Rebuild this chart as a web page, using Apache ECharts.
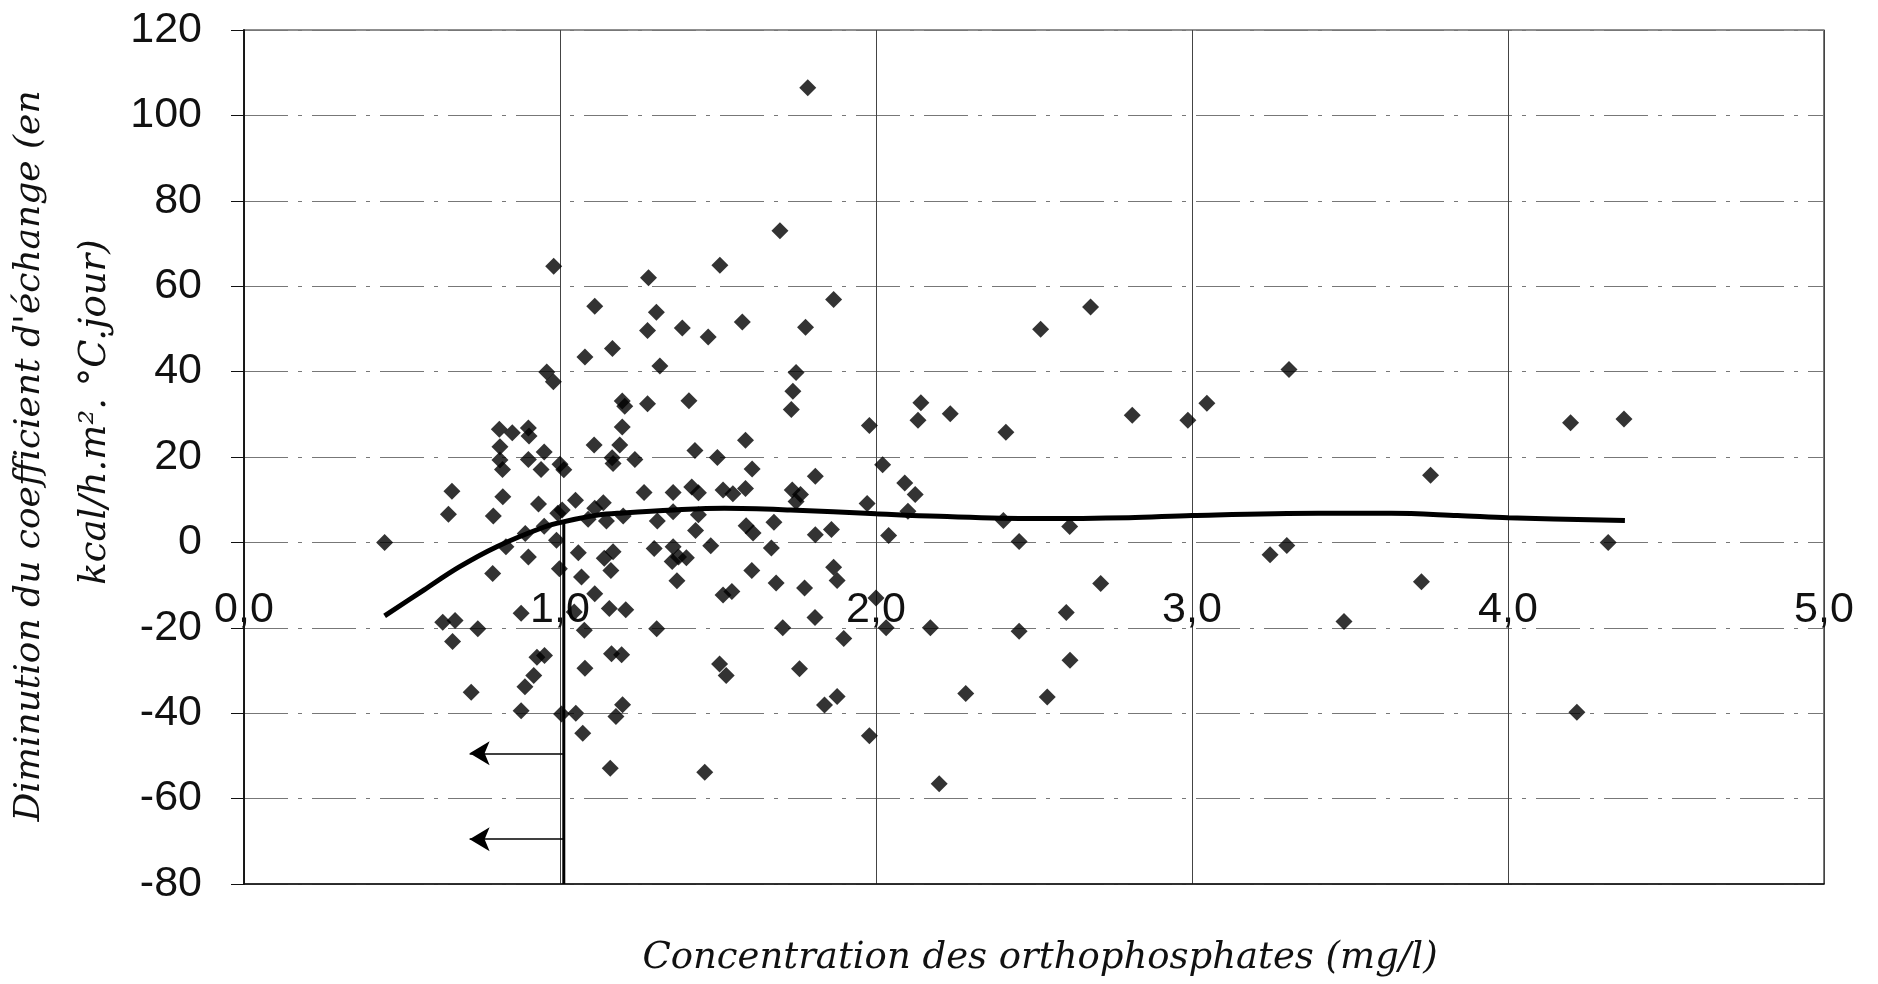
<!DOCTYPE html>
<html>
<head>
<meta charset="utf-8">
<script src="https://cdn.jsdelivr.net/npm/echarts@6/dist/echarts.min.js"></script>
<style>
html,body{margin:0;padding:0;background:#fff;}
#chart{width:1878px;height:984px;}
</style>
</head>
<body>
<div id="chart"></div>
<script>
// Orthophosphate concentration (mg/l)
const concentration = [
 0.98,1.28,1.11,1.305,1.277,1.166,1.079,1.316,0.958,0.979,1.197,1.205,1.277,1.197,0.808,0.849,0.90,0.902,0.81,1.108,
 1.189,0.95,0.81,0.90,1.165,1.237,0.818,0.94,1.0,1.012,1.168,0.658,0.819,1.266,1.358,0.647,0.789,0.932,1.049,1.007,
 0.993,1.137,1.11,1.089,1.147,1.20,1.308,1.358,0.445,0.829,0.89,0.95,0.989,1.058,1.168,1.298,1.358,0.90,1.14,
 1.161,0.787,0.998,1.068,1.11,0.877,1.045,1.077,1.156,1.208,1.306,0.629,0.668,0.74,0.66,0.927,0.951,1.163,1.195,0.917,
 0.889,1.079,0.719,0.877,1.005,1.05,1.198,1.177,1.072,1.159,
 1.355,1.375,1.40,1.37,
 1.784,1.696,1.506,1.866,1.387,1.469,1.577,1.777,1.747,1.737,1.732,1.408,1.979,2.142,2.133,2.235,1.587,1.427,1.498,1.608,
 1.808,2.021,2.091,2.124,1.417,1.438,1.516,1.547,1.587,1.735,1.761,1.747,1.972,1.438,2.101,1.429,1.589,1.611,1.677,1.808,
 1.859,2.04,1.477,1.669,
 1.607,1.684,1.774,1.866,1.877,1.516,1.544,2.0,1.705,1.807,1.898,2.032,2.172,1.505,1.526,1.758,1.877,1.837,1.979,1.458,2.2,
 2.284,2.679,2.521,3.307,2.411,2.811,2.987,3.047,3.755,2.403,2.613,2.453,3.247,3.30,3.726,2.711,2.602,2.453,3.481,2.614,2.542,
 4.198,4.367,4.317,4.218
];
// Decrease of the exchange coefficient (kcal/h.m².°C.jour)
const diminution = [
 64.7,62.0,55.3,53.9,49.6,45.4,43.4,41.3,39.9,37.6,33.1,31.9,32.5,27.0,26.5,25.7,26.8,24.9,22.4,22.8,
 22.8,21.2,19.3,19.4,19.8,19.4,17.1,17.1,18.3,17.0,18.5,12.0,10.7,11.7,11.7,6.6,6.2,9.0,9.9,7.6,
 6.8,9.3,8.0,5.4,5.0,6.2,5.0,7.2,0.0,-1.0,2.1,3.8,0.5,-2.4,-2.2,-1.4,-1.0,-3.4,-3.7,
 -6.6,-7.3,-6.2,-8.1,-12.0,-16.6,-16.3,-20.6,-15.5,-15.8,-20.2,-18.7,-18.3,-20.2,-23.2,-26.9,-26.5,-26.1,-26.3,-31.2,
 -33.8,-29.5,-35.1,-39.4,-40.2,-40.0,-38.0,-40.8,-44.7,-52.9,
 -4.5,-3.4,-3.6,-9.0,
 106.5,73.0,64.9,56.9,50.2,48.1,51.6,50.4,39.8,35.4,31.1,33.2,27.4,32.7,28.6,30.1,23.9,21.5,19.9,17.2,
 15.5,18.2,13.9,11.2,13.0,11.6,12.3,11.4,12.6,12.3,11.2,9.6,9.1,6.5,7.3,2.8,3.9,2.2,4.7,1.8,
 3.0,1.6,-0.8,-1.3,
 -6.6,-9.5,-10.7,-5.8,-8.9,-12.3,-11.5,-13.0,-20.0,-17.6,-22.5,-20.0,-20.0,-28.5,-31.2,-29.6,-36.1,-38.1,-45.3,-53.8,-56.5,
 -35.4,55.1,49.9,40.5,25.8,29.8,28.6,32.6,15.7,5.1,3.7,0.2,-2.9,-0.7,-9.2,-9.6,-16.4,-20.8,-18.5,-27.6,-36.2,
 28.0,28.9,0.0,-39.8
];
// Fitted trend curve
const trendX = [0.445,0.57,0.68,0.80,0.95,1.01,1.12,1.20,1.36,1.52,1.73,2.0,2.2,2.5,2.8,3.0,3.4,3.63,3.84,4.0,4.37];
const trendY = [-17.2,-11.1,-5.8,-1.0,3.6,4.8,6.4,6.9,7.6,8.0,7.6,6.7,6.1,5.6,5.8,6.3,6.8,6.8,6.3,5.8,5.1];
// Threshold marker (vertical line at ~1 mg/l) and arrows
const thresholdX = 1.012;
const thresholdTop = 4.8;
const arrowLevels = [-49.4, -69.5];
const arrowTipX = 0.714;
// Tick labels
const xTickValues = [0,1,2,3,4,5];
const xTickLabels = ['0,0','1,0','2,0','3,0','4,0','5,0'];
const yTickValues = [-80,-60,-40,-20,0,20,40,60,80,100,120];
const yTickLabels = ['-80','-60','-40','-20','0','20','40','60','80','100','120'];

const points = concentration.map((x,i)=>[x, diminution[i]]);
const trend = trendX.map((x,i)=>[x, trendY[i]]);

const chart = echarts.init(document.getElementById('chart'), null, {renderer:'canvas'});
chart.setOption({
  backgroundColor:'#ffffff',
  animation:false,
  grid:{left:244, top:30, width:1580, height:854, show:true, borderColor:'#222', borderWidth:1.2, backgroundColor:'transparent'},
  xAxis:{
    type:'value', min:0, max:5, interval:1,
    axisLine:{show:true, onZero:false, lineStyle:{color:'#111', width:1.5}},
    axisTick:{show:false},
    axisLabel:{
      margin:-295, fontFamily:'Liberation Sans', fontSize:43, color:'#111', lineHeight:43,
      formatter:v=>{const i=xTickValues.indexOf(Math.round(v)); return i>=0?xTickLabels[i]:'';}
    },
    splitLine:{show:true, lineStyle:{color:'#444', width:1, type:'solid'}}
  },
  yAxis:{
    type:'value', min:-80, max:120, interval:20,
    axisLine:{show:true, onZero:false, lineStyle:{color:'#111', width:1.8}},
    axisTick:{show:true, length:13, lineStyle:{color:'#111'}},
    axisLabel:{
      margin:42, fontFamily:'Liberation Sans', fontSize:43, color:'#111',
      formatter:v=>{const i=yTickValues.indexOf(Math.round(v)); return i>=0?yTickLabels[i]:'';}
    },
    splitLine:{show:true, lineStyle:{color:'#777', width:1, type:[44,10,4,10]}}
  },
  series:[
    {
      type:'scatter', data:points, symbol:'diamond', symbolSize:17,
      itemStyle:{color:'#000'}, z:3, silent:true
    },
    {
      type:'line', data:trend, smooth:0.35, showSymbol:false, symbol:'none',
      lineStyle:{color:'#000', width:5}, z:4, silent:true
    },
    {
      type:'line', data:[[thresholdX, thresholdTop],[thresholdX, -80]], showSymbol:false, symbol:'none',
      lineStyle:{color:'#000', width:3}, z:4, silent:true,
      markLine:{
        silent:true, animation:false, symbol:['none','arrow'], symbolSize:[18,20],
        label:{show:false},
        lineStyle:{color:'#000', width:1.5, type:'solid'},
        data: arrowLevels.map(y=>[{coord:[thresholdX, y]},{coord:[arrowTipX, y]}])
      }
    }
  ],
  graphic:[
    {type:'text', x:30, y:456, rotation:Math.PI/2, style:{
      text:"Diminution du coefficient d'échange (en", fontFamily:'DejaVu Serif', fontStyle:'italic',
      fontSize:36, fill:'#111', textAlign:'center', textVerticalAlign:'middle'}},
    {type:'text', x:95, y:412, rotation:Math.PI/2, style:{
      text:'kcal/h.m². °C.jour)', fontFamily:'DejaVu Serif', fontStyle:'italic',
      fontSize:37, fill:'#111', textAlign:'center', textVerticalAlign:'middle'}},
    {type:'text', x:1040, y:958, style:{
      text:'Concentration des orthophosphates (mg/l)', fontFamily:'DejaVu Serif', fontStyle:'italic',
      fontSize:37, fill:'#111', textAlign:'center', textVerticalAlign:'middle'}}
  ]
});
</script>
</body>
</html>
